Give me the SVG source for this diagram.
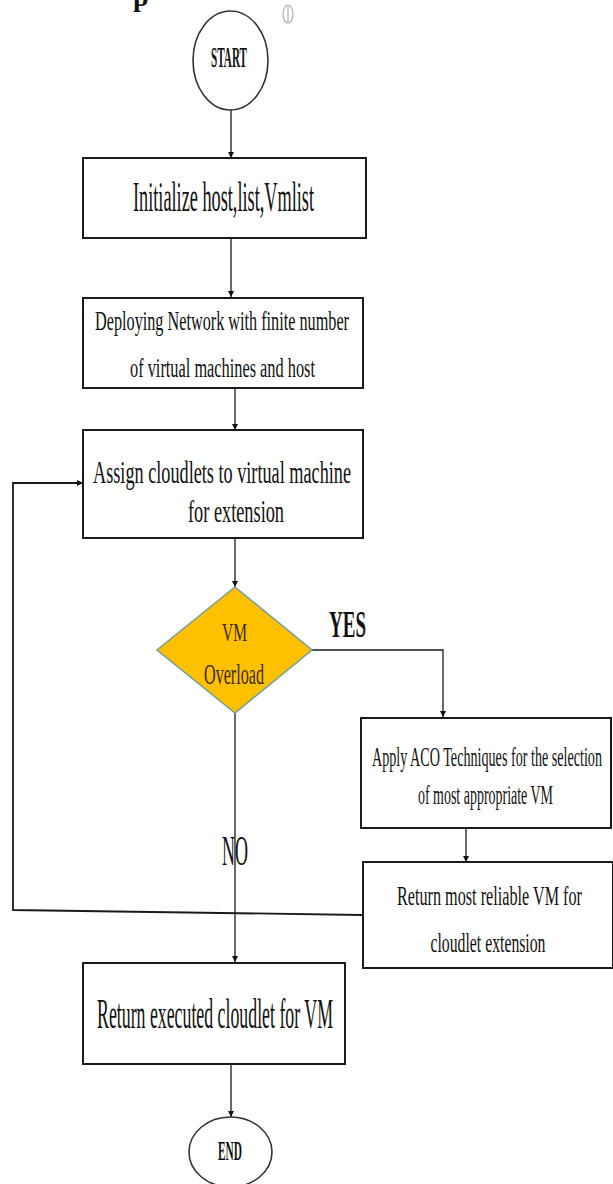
<svg xmlns="http://www.w3.org/2000/svg" width="613" height="1184" viewBox="0 0 613 1184">
<defs>
<style>
.box{fill:#fff;stroke:#1a1a1a;stroke-width:2}
.term{fill:#fff;stroke:#333;stroke-width:1.6}
.t{font-family:"Liberation Serif","Times New Roman",serif;fill:#111;text-anchor:middle}
.b{font-weight:bold}
.c{fill:none;stroke:#1a1a1a;stroke-width:1.3}
</style>
<marker id="ah" viewBox="0 0 10 10" refX="10" refY="5" markerWidth="6" markerHeight="8" markerUnits="userSpaceOnUse" orient="auto">
<path d="M0,0 L10,5 L0,10 z" fill="#111"/>
</marker>
</defs>
<rect width="613" height="1184" fill="#fff"/>
<text x="133" y="6" font-family="Liberation Serif, serif" font-weight="bold" font-size="28" fill="#111">p</text>
<g id="mark" fill="none" stroke="#b0b0b0" stroke-width="1.2">
<ellipse cx="288" cy="14" rx="5" ry="9"/>
<line x1="288" y1="6" x2="288" y2="23"/>
</g>
<g id="connectors" class="conn">
<path class="c" d="M231,110 L231,158" marker-end="url(#ah)"/>
<path class="c" d="M231,238 L231,297" marker-end="url(#ah)"/>
<path class="c" d="M235,388 L235,430" marker-end="url(#ah)"/>
<path class="c" d="M235,538 L235,587" marker-end="url(#ah)"/>
<path class="c" d="M312,650 L443,650 L443,717" marker-end="url(#ah)"/>
<path class="c" d="M466,828 L466,862" marker-end="url(#ah)"/>
<path class="c" d="M235,713 L235,962" marker-end="url(#ah)"/>
<path class="c" d="M362,915 L13,910 L13,483 L83,483" marker-end="url(#ah)" style="stroke-width:1.8"/>
<path class="c" d="M231,1064 L231,1117" marker-end="url(#ah)"/>
</g>
<g id="start">
<ellipse class="term" cx="230.5" cy="60.5" rx="37.5" ry="49.5"/>
<text class="t b" x="229" y="67" font-size="29" textLength="36" lengthAdjust="spacingAndGlyphs">START</text>
</g>
<g id="init">
<rect class="box" x="83" y="158" width="283" height="80"/>
<text class="t" x="223.5" y="211" font-size="43" textLength="181" lengthAdjust="spacingAndGlyphs">Initialize host,list,Vmlist</text>
</g>
<g id="deploy">
<rect class="box" x="83" y="298" width="280" height="90"/>
<text class="t" x="222" y="330" font-size="28" textLength="254" lengthAdjust="spacingAndGlyphs">Deploying Network with finite number</text>
<text class="t" x="222.5" y="377" font-size="28" textLength="185" lengthAdjust="spacingAndGlyphs">of virtual machines and host</text>
</g>
<g id="assign">
<rect class="box" x="83" y="430" width="280" height="108"/>
<text class="t" x="222" y="483" font-size="32" textLength="258" lengthAdjust="spacingAndGlyphs">Assign cloudlets to virtual machine</text>
<text class="t" x="236" y="522" font-size="32" textLength="96" lengthAdjust="spacingAndGlyphs">for extension</text>
</g>
<g id="decision">
<polygon points="235,587 312,650 235,713 157,650" fill="#FFC000" stroke="#6f9f9a" stroke-width="1.5"/>
<text class="t" x="234.5" y="641" font-size="26" textLength="25" lengthAdjust="spacingAndGlyphs" style="fill:#3a2a10">VM</text>
<text class="t" x="234" y="684" font-size="29" textLength="60" lengthAdjust="spacingAndGlyphs" style="fill:#3a2a10">Overload</text>
</g>
<g id="labels">
<text class="t b" x="347.5" y="637" font-size="37" textLength="37" lengthAdjust="spacingAndGlyphs">YES</text>
<text class="t" x="235" y="865" font-size="43" textLength="26" lengthAdjust="spacingAndGlyphs">NO</text>
</g>
<g id="aco">
<rect class="box" x="361" y="718" width="250" height="110"/>
<text class="t" x="487" y="766" font-size="28" textLength="230" lengthAdjust="spacingAndGlyphs">Apply ACO Techniques for the selection</text>
<text class="t" x="485.5" y="804" font-size="28" textLength="135" lengthAdjust="spacingAndGlyphs">of most appropriate VM</text>
</g>
<g id="reliable">
<rect class="box" x="363" y="862" width="250" height="106"/>
<text class="t" x="489.5" y="905" font-size="28" textLength="185" lengthAdjust="spacingAndGlyphs">Return most reliable VM for</text>
<text class="t" x="488" y="952" font-size="28" textLength="115" lengthAdjust="spacingAndGlyphs">cloudlet extension</text>
</g>
<g id="executed">
<rect class="box" x="83" y="963" width="262" height="101"/>
<text class="t" x="215" y="1028" font-size="42" textLength="236" lengthAdjust="spacingAndGlyphs">Return executed cloudlet for VM</text>
</g>
<g id="end">
<ellipse class="term" cx="230.5" cy="1152" rx="41.5" ry="35"/>
<text class="t b" x="230" y="1160" font-size="27" textLength="24" lengthAdjust="spacingAndGlyphs">END</text>
</g>
</svg>
